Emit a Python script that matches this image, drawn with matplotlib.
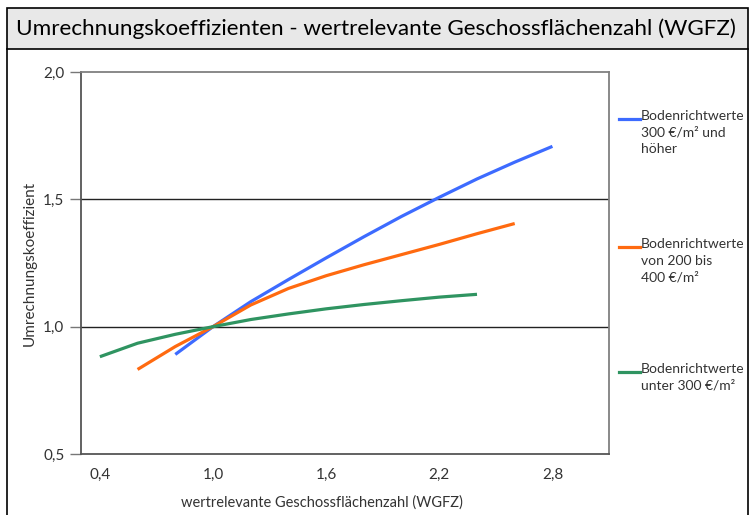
import matplotlib
matplotlib.use('Agg')
import matplotlib.pyplot as plt
from matplotlib.patches import Rectangle
from matplotlib.lines import Line2D
from matplotlib.ticker import FuncFormatter

# data
x_hoch = [0.8, 1.0, 1.2, 1.4, 1.6, 1.8, 2.0, 2.2, 2.4, 2.6, 2.8]
y_hoch = [0.891, 1.0, 1.098, 1.185, 1.27, 1.353, 1.433, 1.508, 1.58, 1.646, 1.708]

x_mittel = [0.6, 0.8, 1.0, 1.2, 1.4, 1.6, 1.8, 2.0, 2.2, 2.4, 2.6]
y_mittel = [0.832, 0.922, 1.0, 1.085, 1.15, 1.20, 1.243, 1.283, 1.323, 1.365, 1.405]

x_niedrig = [0.4, 0.6, 0.8, 1.0, 1.2, 1.4, 1.6, 1.8, 2.0, 2.2, 2.4]
y_niedrig = [0.882, 0.935, 0.97, 1.0, 1.028, 1.05, 1.07, 1.087, 1.102, 1.116, 1.127]

labels = ['Bodenrichtwerte\n300 €/m² und\nhöher',
          'Bodenrichtwerte\nvon 200 bis\n400 €/m²',
          'Bodenrichtwerte\nunter 300 €/m²']
colors = ['#3d6bff', '#ff6a10', '#2f9461']

xticks = [0.4, 1.0, 1.6, 2.2, 2.8]
yticks = [0.5, 1.0, 1.5, 2.0]

title = 'Umrechnungskoeffizienten - wertrelevante Geschossflächenzahl (WGFZ)'

plt.rcParams['font.family'] = ['Lato', 'DejaVu Sans']
txtcol = '#333333'
W, H = 753, 515

fig = plt.figure(figsize=(W / 100, H / 100), dpi=100)

# title bar and outer frame
fig.add_artist(Rectangle((7 / W, 1 - 49 / H), 741 / W, 41 / H, transform=fig.transFigure,
                         facecolor='#e8e8e8', edgecolor='black', lw=1.2))
fig.add_artist(Line2D([7 / W, 7 / W], [0, 1 - 49 / H], transform=fig.transFigure, color='black', lw=1.2))
fig.add_artist(Line2D([748 / W, 748 / W], [0, 1 - 49 / H], transform=fig.transFigure, color='black', lw=1.2))
t = fig.text(16 / W, 1 - 29 / H, title, fontsize=17, va='center', ha='left', color='black')
# shrink title to fit the bar width (reference text is a condensed face)
r = fig.canvas.get_renderer()
tw = t.get_window_extent(r).width
if tw > 720:
    t.set_fontsize(17 * 720 / tw)

ax = fig.add_axes([81 / W, 1 - 454 / H, 528 / W, 382 / H])
ax.plot(x_hoch, y_hoch, color=colors[0], lw=2.3, solid_capstyle='butt')
ax.plot(x_mittel, y_mittel, color=colors[1], lw=2.3, solid_capstyle='butt')
ax.plot(x_niedrig, y_niedrig, color=colors[2], lw=2.3, solid_capstyle='butt')

ax.set_xlim(0.3, 3.1)
ax.set_ylim(0.5, 2.0)
ax.set_xticks(xticks)
ax.set_yticks(yticks)
fmt = FuncFormatter(lambda v, p: '{:.1f}'.format(v).replace('.', ','))
ax.xaxis.set_major_formatter(fmt)
ax.yaxis.set_major_formatter(fmt)
ax.tick_params(axis='x', length=0, pad=10, labelsize=11, labelcolor=txtcol)
ax.tick_params(axis='y', length=8, width=1, color='#777777', pad=4, labelsize=11, labelcolor=txtcol)
for g in [1.0, 1.5]:
    ax.axhline(g, color='#222222', lw=1.0, zorder=0)
for s in ax.spines.values():
    s.set_color('#808080')
    s.set_linewidth(1.3)
ax.spines['left'].set_color('#555555')
ax.spines['bottom'].set_color('#555555')

ax.set_xlabel('wertrelevante Geschossflächenzahl (WGFZ)', fontsize=10.5, color=txtcol)
ax.xaxis.set_label_coords((322 - 81) / 528, -41 / 382)
ax.set_ylabel('Umrechnungskoeffizient', fontsize=11, color=txtcol)
ax.yaxis.set_label_coords(-44 / 528, 0.5)

# legend on the right
leg_y = [119, 247, 372]
for c, lab, yy in zip(colors, labels, leg_y):
    fig.add_artist(Line2D([619 / W, 640 / W], [1 - yy / H] * 2, transform=fig.transFigure,
                          color=c, lw=2.3))
    fig.text(641 / W, 1 - (yy - 9) / H, lab, fontsize=10, va='top', ha='left',
             color=txtcol, linespacing=1.45)

fig.savefig('out.png', dpi=100)
